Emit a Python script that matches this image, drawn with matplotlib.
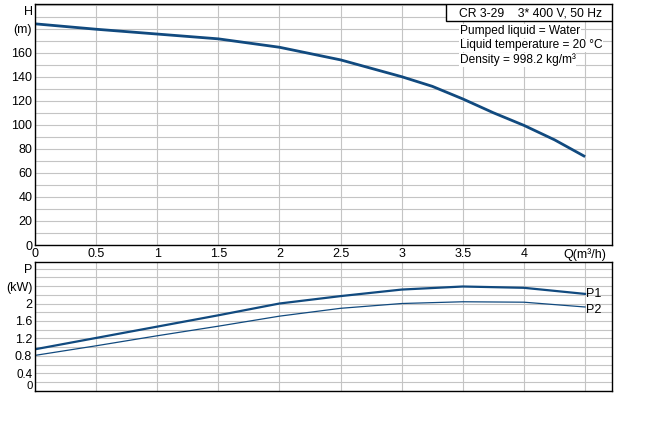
import numpy as np
import matplotlib
matplotlib.use("Agg")
import matplotlib.pyplot as plt
from matplotlib.patches import Rectangle

# -------------------------------
# Data
# -------------------------------
q_head = [0, 0.5, 1, 1.5, 2, 2.5, 3, 3.25, 3.5, 3.75, 4, 4.25, 4.5]
head = [184, 179.5, 175.5, 171.5, 164.5, 154, 140, 132, 121.5, 110, 99.5, 87.5, 73.5]

q_power = [0, 0.5, 1, 1.5, 2, 2.5, 3, 3.5, 4, 4.5]
p1 = [0.95, 1.21, 1.47, 1.73, 2.00, 2.17, 2.32, 2.39, 2.36, 2.22]
p2 = [0.81, 1.03, 1.26, 1.48, 1.71, 1.89, 2.00, 2.04, 2.03, 1.92]

x_ticks = [0, 0.5, 1, 1.5, 2, 2.5, 3, 3.5, 4, 4.5]
x_labels = ["0", "0.5", "1", "1.5", "2", "2.5", "3", "3.5", "4", "Q(m³/h)"]
h_labels = ["0", "20", "40", "60", "80", "100", "120", "140", "160", "(m)"]
p_labels = ["", "0.4", "0.8", "1.2", "1.6", "2", "(kW)", "P"]

info_title = "CR 3-29    3* 400 V, 50 Hz"
info_lines = ["Pumped liquid = Water", "Liquid temperature = 20 °C", "Density = 998.2 kg/m³"]

plt.rcParams["font.family"] = ["Liberation Sans", "DejaVu Sans"]
plt.rcParams["font.size"] = 9

line_col = "#114a7f"
grid_col = "#c4c4c4"

fig = plt.figure(figsize=(6.64, 4.25), dpi=100)
ax1 = fig.add_axes([0.0527, 0.4235, 0.869, 0.5671])
ax2 = fig.add_axes([0.0527, 0.0807, 0.869, 0.3021])

# -------------------------------
# Head curve
# -------------------------------
ax1.plot(q_head, head, color=line_col, lw=2.0, solid_capstyle="butt")
ax1.set_xlim(0, 4.72)
ax1.set_ylim(0, 200.5)
ax1.set_xticks(x_ticks)
ax1.set_xticklabels(x_labels)
ax1.set_yticks(np.arange(0, 181, 20))
ax1.set_yticklabels(h_labels)
ax1.set_yticks(np.arange(0, 201, 10), minor=True)
ax1.text(-0.004, 193.5, "H", transform=ax1.get_yaxis_transform(), ha="right", va="center")
ax1.grid(True, which="both", axis="y", color=grid_col, lw=0.8)
ax1.grid(True, which="major", axis="x", color=grid_col, lw=0.8)
ax1.tick_params(which="both", length=0)
ax1.tick_params(axis="y", pad=2)
ax1.tick_params(axis="x", pad=2)

# info box
ax1.add_patch(Rectangle((0.712, 0.929), 0.288, 0.071, transform=ax1.transAxes,
                        fc="white", ec="black", lw=1, zorder=3))
ax1.text(0.859, 0.962, info_title, transform=ax1.transAxes, ha="center", va="center",
         fontsize=8.7, zorder=4)
for i, line in enumerate(info_lines):
    ax1.text(0.7366, 0.888 - i * 0.06, line, transform=ax1.transAxes, ha="left", va="center",
             fontsize=8.6, zorder=4,
             bbox=dict(boxstyle="square,pad=0.05", fc="white", ec="none"))

# -------------------------------
# Power curves
# -------------------------------
ax2.plot(q_power, p1, color=line_col, lw=1.6)
ax2.plot(q_power, p2, color=line_col, lw=0.9)
ax2.text(q_power[-1] + 0.01, p1[-1], "P1", ha="left", va="center")
ax2.text(q_power[-1] + 0.01, p2[-1] - 0.08, "P2", ha="left", va="center")
ax2.set_xlim(0, 4.72)
ax2.set_ylim(0, 2.945)
ax2.set_xticks(x_ticks)
ax2.set_xticklabels([])
ax2.set_yticks(np.arange(0, 2.81, 0.4))
ax2.set_yticklabels(p_labels)
ax2.set_yticks(np.arange(0, 2.95, 0.2), minor=True)
ax2.text(-0.004, 0.0, "0", transform=ax2.get_yaxis_transform(), ha="right", va="bottom",
         fontsize=8.2)
ax2.grid(True, which="both", axis="y", color=grid_col, lw=0.8)
ax2.grid(True, which="major", axis="x", color=grid_col, lw=0.8)
ax2.tick_params(which="both", length=0)
ax2.tick_params(axis="y", pad=2)
for lbl in ax2.get_yticklabels():
    if lbl.get_text() == "0.4":
        lbl.set_fontsize(8.4)

for ax in (ax1, ax2):
    for s in ax.spines.values():
        s.set_color("black")
        s.set_linewidth(1.0)

plt.savefig("out.png", dpi=100)
